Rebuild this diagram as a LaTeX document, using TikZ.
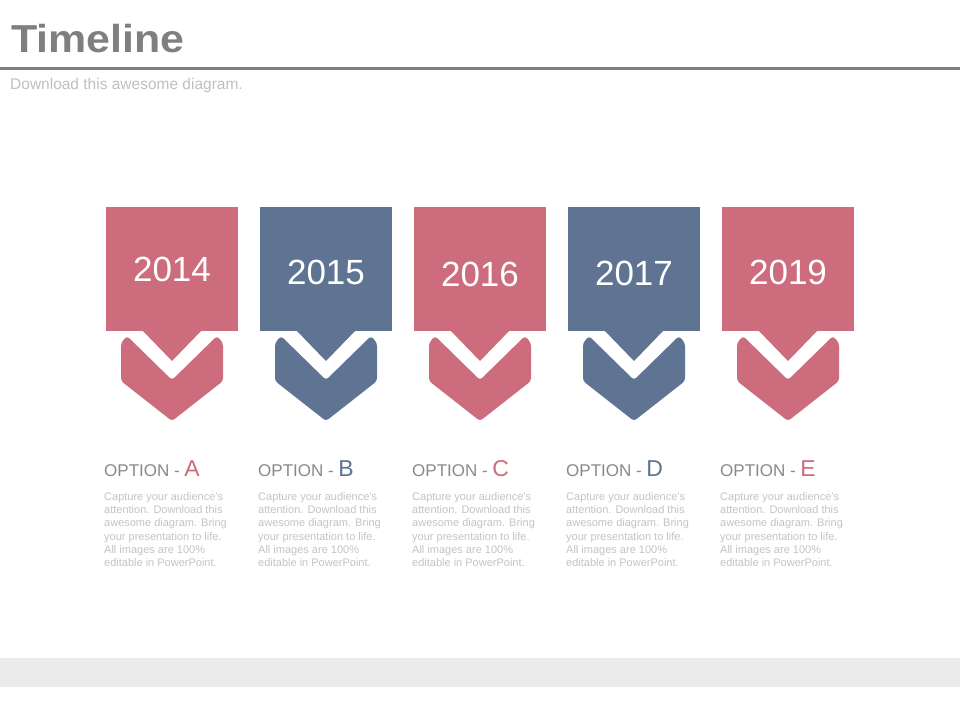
\documentclass[tikz,border=0pt]{standalone}
\usepackage{fontspec}
\usepackage{graphicx}
\setmainfont{Liberation Sans}
\definecolor{pinkc}{RGB}{204,108,124}
\definecolor{bluec}{RGB}{95,116,146}
\definecolor{titlegray}{RGB}{127,127,127}
\definecolor{subgray}{RGB}{192,192,192}
\definecolor{optgray}{RGB}{137,137,137}
\definecolor{bodygray}{RGB}{196,196,196}
\definecolor{bandgray}{RGB}{235,235,235}
\tikzset{
  yearbox/.style={minimum width=132pt, minimum height=124pt, inner sep=0pt, outer sep=0pt},
  yeartext/.style={anchor=base, inner sep=0pt, text=white, font=\fontsize{35}{35}\selectfont},
  optlabel/.style={anchor=base west, inner sep=0pt},
  bodytext/.style={anchor=north west, inner sep=0pt, align=left, text=bodygray, font=\fontsize{11}{13.3}\selectfont},
  chev/.style={rounded corners=3pt}
}
\begin{document}
\begin{tikzpicture}[x=1pt,y=-1pt]
\useasboundingbox (0,0) rectangle (960,720);
\fill[white] (0,0) rectangle (960,720);
% header
\node[anchor=base west, inner sep=0pt, text=titlegray, font=\fontsize{39}{39}\selectfont\bfseries] (title) at (11,52) {\scalebox{1.1}[1]{Timeline}};
\fill[titlegray] (0,67) rectangle (960,70);
\node[anchor=base west, inner sep=0pt, text=subgray, font=\fontsize{15.5}{15.5}\selectfont] (subtitle) at (10,89) {Download this awesome diagram.};
% footer band
\fill[bandgray] (0,658) rectangle (960,687);
% timeline items
\foreach \i/\cx/\yr/\col/\ltr/\bl in {1/172/2014/pinkc/A/281, 2/326/2015/bluec/B/284, 3/480/2016/pinkc/C/286, 4/634/2017/bluec/D/285, 5/788/2019/pinkc/E/284}{
  \node[yearbox, fill=\col] (box\i) at (\cx,269) {};
  \fill[\col] (\cx-30,330) -- (\cx,361) -- (\cx+30,330) -- cycle;
  \fill[\col, chev] (\cx-51,343) -- (\cx-45,336) -- (\cx,380) -- (\cx+45,336) -- (\cx+51,343) -- (\cx+51,381) -- (\cx,421) -- (\cx-51,381) -- cycle;
  \node[yeartext] (year\i) at (\cx,\bl) {\yr};
  \node[optlabel] (opt\i) at (\cx-68,476) {\textcolor{optgray}{\fontsize{17}{17}\selectfont OPTION -~}\textcolor{\col}{\fontsize{23}{23}\selectfont \ltr}};
  \node[bodytext] (body\i) at (\cx-68,492) {Capture your audience's\\attention. Download this\\awesome diagram. Bring\\your presentation to life.\\All images are 100\%\\editable in PowerPoint.};
}
\end{tikzpicture}
\end{document}
